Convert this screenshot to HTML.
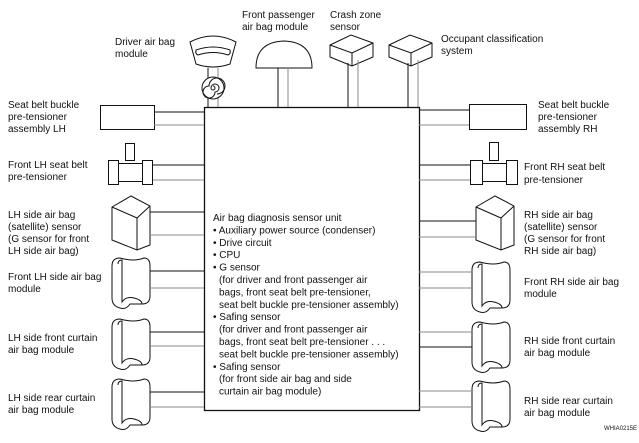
<!DOCTYPE html>
<html><head><meta charset="utf-8"><style>
body{margin:0;background:#fff}
svg{display:block}
text{font-family:"Liberation Sans",sans-serif;font-size:10px;fill:#111}
</style></head><body>
<svg width="639" height="443" viewBox="0 0 639 443">
<g stroke="#111" fill="none" stroke-width="1">
<!-- main box -->
<rect x="204.5" y="107.5" width="215" height="303" stroke-width="1.3"/>
<!-- top components -->
<path d="M190,42 Q213,30 236,42 L230,64 Q213,70 196,64 Z" fill="#fff"/>
<path d="M196,50 Q213,44 230,50 Q231,54 228,55 Q213,50 198,55 Q195,54 196,50 Z"/>
<line x1="208" y1="68" x2="208" y2="107"/><line x1="218" y1="68" x2="218" y2="107" stroke="#888"/>
<circle cx="213" cy="88" r="11" fill="#fff"/>
<path d="M213,88 m0,-2 a2,2 0 1 1 -2,2 a4,4 0 1 1 4,4 a6,6 0 1 1 -6,-6 a8,8 0 1 1 8,8"/>
<path d="M256,68 Q256,42 284,41 Q312,42 312,68 Z" fill="#fff"/>
<line x1="278" y1="68" x2="278" y2="107"/><line x1="288" y1="68" x2="288" y2="107" stroke="#888"/>
<path d="M330,45 L351,35 L373,43 L373,57 L352,66 L330,57 Z M330,45 L352,53 L373,43 M352,53 L352,66" fill="#fff"/>
<line x1="348" y1="63" x2="348" y2="107"/><line x1="358" y1="60" x2="358" y2="107" stroke="#888"/>
<path d="M389,45 L410,35 L432,43 L432,57 L411,66 L389,57 Z M389,45 L411,53 L432,43 M411,53 L411,66" fill="#fff"/>
<line x1="408" y1="63" x2="408" y2="107"/><line x1="418" y1="60" x2="418" y2="107" stroke="#888"/>
<!-- left -->
<rect x="100.5" y="105.5" width="54" height="24"/>
<line x1="154" y1="112" x2="204" y2="112"/><line x1="154" y1="125" x2="204" y2="125" stroke="#888"/>
<rect x="125.5" y="143.5" width="9" height="17"/>
<rect x="108.5" y="160.5" width="10" height="24"/><rect x="118.5" y="163.5" width="24" height="18"/><rect x="142.5" y="160.5" width="10" height="24"/>
<line x1="153" y1="165" x2="204" y2="165"/><line x1="153" y1="180" x2="204" y2="180" stroke="#888"/>
<path d="M112,207 L131,196 L150,206 L150,245 L137,250 L112,240 Z M112,207 L137,218 L150,206 M137,218 L137,250" fill="#fff"/>
<line x1="150" y1="212" x2="204" y2="212"/><line x1="150" y1="235" x2="204" y2="235" stroke="#888"/>
<!-- right -->
<rect x="469.5" y="104.5" width="57" height="25"/>
<line x1="419" y1="110" x2="469" y2="110"/><line x1="419" y1="125" x2="469" y2="125" stroke="#888"/>
<rect x="489.5" y="142.5" width="9" height="18"/>
<rect x="470.5" y="160.5" width="12" height="24"/><rect x="482.5" y="163.5" width="24" height="18"/><rect x="506.5" y="160.5" width="11" height="24"/>
<line x1="419" y1="165" x2="470" y2="165"/><line x1="419" y1="180" x2="470" y2="180" stroke="#888"/>
<path d="M476,207 L495,196 L514,206 L514,245 L501,250 L476,240 Z M476,207 L501,218 L514,206 M501,218 L501,250" fill="#fff"/>
<line x1="419" y1="221" x2="476" y2="221"/><line x1="419" y1="237" x2="476" y2="237" stroke="#888"/>
</g>
<defs>
<g id="bag" stroke="#111" fill="#fff" stroke-width="1">
<path d="M0,8 Q0,0 8,0 Q22,4 32,0 Q38,0 38,8 L38,38 Q38,46 30,46 L18,46 Q14,52 8,50 Q0,48 0,40 Z"/>
<path d="M6,6 Q6,2 10,2 L10,44 Q14,38 22,40 Q30,42 30,46" fill="none"/>
</g>
</defs>
<use href="#bag" x="112" y="258"/><use href="#bag" x="112" y="319"/><use href="#bag" x="112" y="379"/>
<use href="#bag" x="472" y="262"/><use href="#bag" x="472" y="322"/><use href="#bag" x="472" y="381"/>
<g stroke-width="1">
<line x1="150" y1="271" x2="204" y2="271" stroke="#111"/><line x1="150" y1="288" x2="204" y2="288" stroke="#888"/>
<line x1="150" y1="332" x2="204" y2="332" stroke="#111"/><line x1="150" y1="346" x2="204" y2="346" stroke="#888"/>
<line x1="150" y1="392" x2="204" y2="392" stroke="#111"/><line x1="150" y1="407" x2="204" y2="407" stroke="#888"/>
<line x1="419" y1="272" x2="472" y2="272" stroke="#888"/><line x1="419" y1="288" x2="472" y2="288" stroke="#888"/>
<line x1="419" y1="332" x2="472" y2="332" stroke="#888"/><line x1="419" y1="347" x2="472" y2="347" stroke="#111"/>
<line x1="419" y1="391" x2="472" y2="391" stroke="#888"/><line x1="419" y1="407" x2="472" y2="407" stroke="#888"/>
</g>
<!-- labels -->
<text x="115" y="45">Driver air bag</text><text x="115" y="57">module</text>
<text x="242" y="18">Front passenger</text><text x="242" y="30">air bag module</text>
<text x="330" y="18">Crash zone</text><text x="330" y="30">sensor</text>
<text x="441" y="42">Occupant classification</text><text x="441" y="54">system</text>
<text x="8" y="108">Seat belt buckle</text><text x="8" y="120">pre-tensioner</text><text x="8" y="132">assembly LH</text>
<text x="8" y="168">Front LH seat belt</text><text x="8" y="180">pre-tensioner</text>
<text x="8" y="218">LH side air bag</text><text x="8" y="230">(satellite) sensor</text><text x="8" y="242">(G sensor for front</text><text x="8" y="254">LH side air bag)</text>
<text x="8" y="280">Front LH side air bag</text><text x="8" y="292">module</text>
<text x="8" y="341">LH side front curtain</text><text x="8" y="353">air bag module</text>
<text x="8" y="401">LH side rear curtain</text><text x="8" y="413">air bag module</text>
<text x="538" y="108">Seat belt buckle</text><text x="538" y="120">pre-tensioner</text><text x="538" y="132">assembly RH</text>
<text x="524" y="170">Front RH seat belt</text><text x="524" y="183">pre-tensioner</text>
<text x="524" y="218">RH side air bag</text><text x="524" y="230">(satellite) sensor</text><text x="524" y="242">(G sensor for front</text><text x="524" y="254">RH side air bag)</text>
<text x="524" y="285">Front RH side air bag</text><text x="524" y="297">module</text>
<text x="524" y="344">RH side front curtain</text><text x="524" y="356">air bag module</text>
<text x="524" y="404">RH side rear curtain</text><text x="524" y="416">air bag module</text>
<text x="604" y="430" style="font-size:6px">WHIA0215E</text>
<g>
<text x="213" y="221">Air bag diagnosis sensor unit</text>
<text x="213" y="233.4">• Auxiliary power source (condenser)</text>
<text x="213" y="245.8">• Drive circuit</text>
<text x="213" y="258.2">• CPU</text>
<text x="213" y="270.6">• G sensor</text>
<text x="219" y="283">(for driver and front passenger air</text>
<text x="219" y="295.4">bags, front seat belt pre-tensioner,</text>
<text x="219" y="307.8">seat belt buckle pre-tensioner assembly)</text>
<text x="213" y="320.2">• Safing sensor</text>
<text x="219" y="332.6">(for driver and front passenger air</text>
<text x="219" y="345">bags, front seat belt pre-tensioner . . .</text>
<text x="219" y="357.4">seat belt buckle pre-tensioner assembly)</text>
<text x="213" y="369.8">• Safing sensor</text>
<text x="219" y="382.2">(for front side air bag and side</text>
<text x="219" y="394.6">curtain air bag module)</text>
</g>
</svg>
</body></html>
